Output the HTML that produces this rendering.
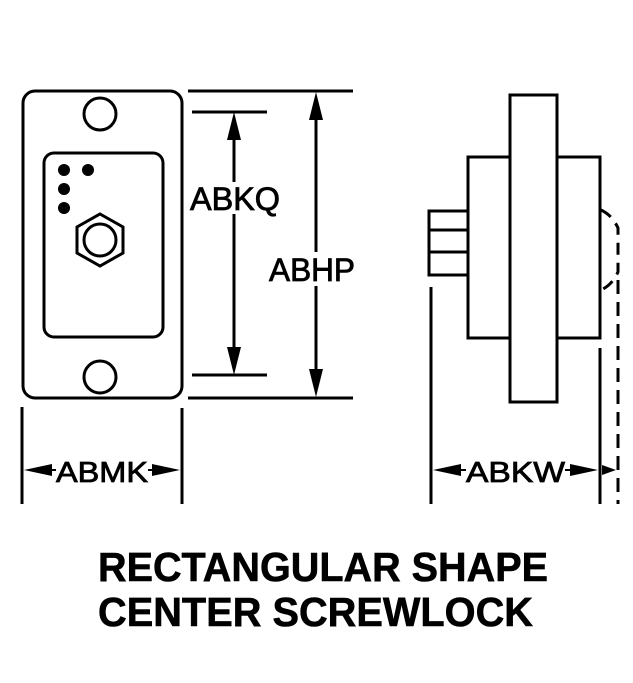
<!DOCTYPE html>
<html><head><style>html,body{margin:0;padding:0;background:#fff}svg{display:block}</style></head>
<body>
<svg width="633" height="683" viewBox="0 0 633 683" xmlns="http://www.w3.org/2000/svg" font-family="Liberation Sans, sans-serif">
<g fill="none" stroke="#000" stroke-width="3">
<rect x="23" y="91" width="159" height="307" rx="12"/>
<rect x="44" y="153" width="119" height="184" rx="10"/>
<circle cx="100" cy="114" r="16"/>
<circle cx="100" cy="377" r="16"/>
<polygon points="100,214 123,227 123,253 100,266 77,253 77,227"/>
<circle cx="100" cy="240" r="16"/>
<line x1="188" y1="91" x2="353" y2="91"/>
<line x1="188" y1="398" x2="353" y2="398"/>
<line x1="192" y1="112" x2="267" y2="112"/>
<line x1="192" y1="375" x2="267" y2="375"/>
<line x1="234" y1="125" x2="234" y2="182"/>
<line x1="234" y1="214" x2="234" y2="362"/>
<line x1="316" y1="104" x2="316" y2="252"/>
<line x1="316" y1="286" x2="316" y2="385"/>
<line x1="22" y1="407" x2="22" y2="504"/>
<line x1="182" y1="408" x2="182" y2="504"/>
<rect x="510" y="95" width="47" height="307"/>
<polyline points="510,157 468,157 468,338 510,338"/>
<polyline points="557,157 600,157 600,338 557,338"/>
<rect x="429" y="211" width="39" height="64"/>
<line x1="429" y1="230" x2="468" y2="230"/>
<line x1="429" y1="252" x2="468" y2="252"/>
<line x1="431" y1="287" x2="431" y2="504"/>
<line x1="600" y1="348" x2="600" y2="504"/>
<path d="M601,210 Q612,215 618,228 L618,272 Q612,285 601,290" stroke-dasharray="12,8"/>
<line x1="618" y1="280" x2="618" y2="504" stroke-dasharray="14,8"/>
</g>
<g fill="#000">
<circle cx="64" cy="170" r="6"/><circle cx="88" cy="170" r="6"/>
<circle cx="64" cy="189" r="6"/><circle cx="64" cy="208" r="6"/>
<polygon points="234,112 227,140 241,140"/>
<polygon points="234,375 227,347 241,347"/>
<polygon points="316,92 309,120 323,120"/>
<polygon points="316,397 309,369 323,369"/>
<polygon points="24,470 52,464 52,476"/>
<polygon points="180,470 152,464 152,476"/>
<polygon points="433,470 461,464 461,476"/>
<polygon points="598,470 570,464 570,476"/>
<polygon points="616,470 602,465 602,475"/>
<rect x="52" y="469" width="4" height="2"/>
<rect x="148" y="469" width="4" height="2"/>
<rect x="461" y="469" width="5" height="2"/>
<rect x="565" y="469" width="5" height="2"/>
</g>
<g fill="#000" stroke="#000" stroke-width="0.8">
<text x="190" y="210" font-size="32" textLength="90" lengthAdjust="spacingAndGlyphs">ABKQ</text>
<text x="269" y="281" font-size="32" textLength="86" lengthAdjust="spacingAndGlyphs">ABHP</text>
<text x="56" y="482" font-size="29" textLength="92" lengthAdjust="spacingAndGlyphs">ABMK</text>
<text x="466" y="482" font-size="29" textLength="99" lengthAdjust="spacingAndGlyphs">ABKW</text>
<text x="98" y="581" font-size="41" font-weight="bold" stroke-width="0.6" textLength="450" lengthAdjust="spacingAndGlyphs">RECTANGULAR SHAPE</text>
<text x="98" y="626" font-size="41" font-weight="bold" stroke-width="0.6" textLength="435" lengthAdjust="spacingAndGlyphs">CENTER SCREWLOCK</text>
</g>
</svg>
</body></html>
